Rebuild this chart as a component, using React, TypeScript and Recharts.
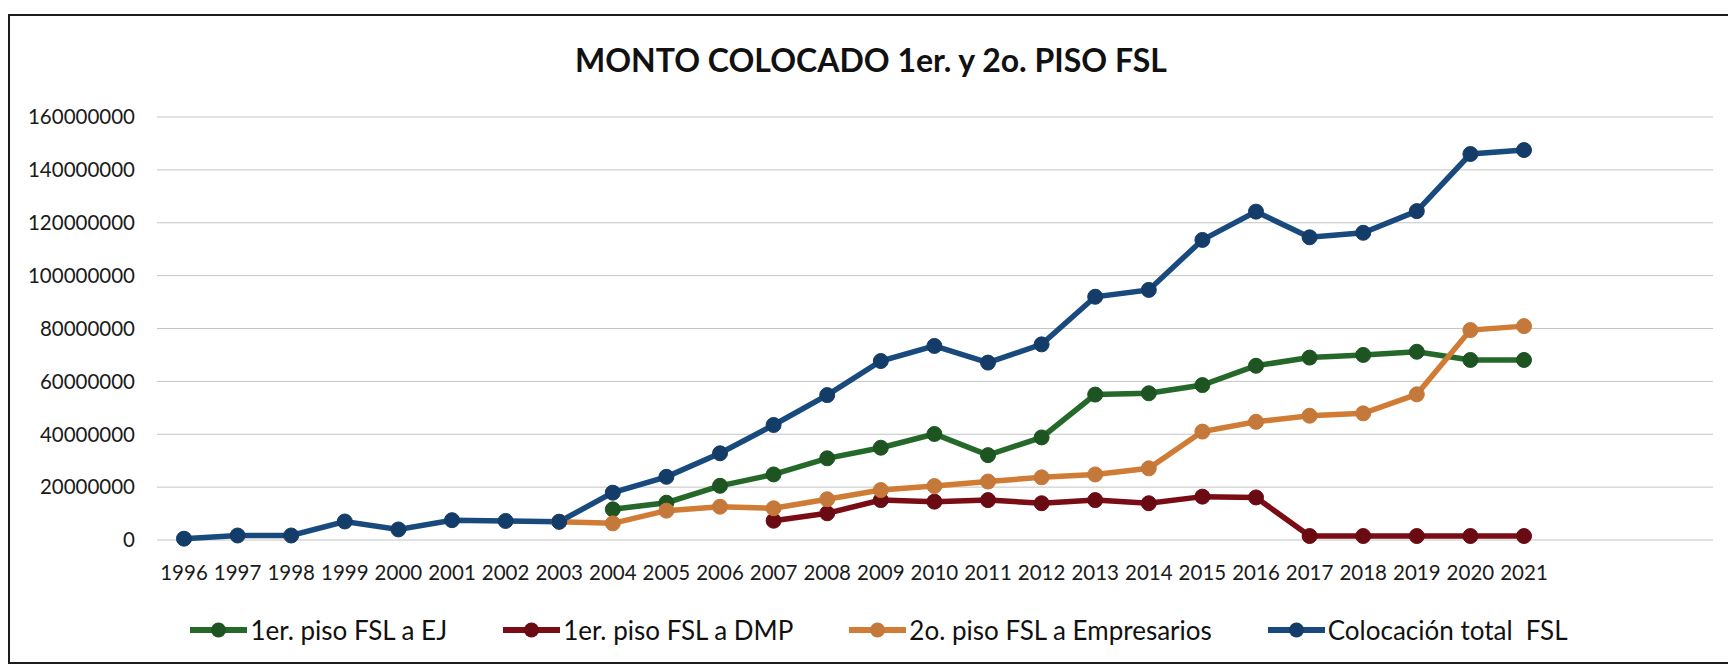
import React from 'react';
import { LineChart, Line, XAxis, YAxis, CartesianGrid } from 'recharts';

const years = ['1996','1997','1998','1999','2000','2001','2002','2003','2004','2005','2006','2007','2008','2009','2010','2011','2012','2013','2014','2015','2016','2017','2018','2019','2020','2021'];

const ejValues = [null,null,null,null,null,null,null,null,11600000,14100000,20500000,24800000,30900000,34900000,40100000,32100000,38800000,55000000,55500000,58600000,65900000,69000000,70000000,71200000,68100000,68100000];

const dmpValues = [null,null,null,null,null,null,null,null,null,null,null,7300000,10100000,15100000,14500000,15100000,13900000,15100000,13900000,16400000,16100000,1500000,1500000,1500000,1500000,1500000];

const empValues = [null,null,null,null,null,null,null,6900000,6300000,11100000,12600000,12000000,15400000,18900000,20400000,22100000,23700000,24800000,27100000,41000000,44700000,47000000,47900000,55100000,79400000,80900000];

const totalValues = [500000,1700000,1700000,7000000,4000000,7500000,7200000,6900000,17900000,23900000,32800000,43500000,54800000,67700000,73400000,67100000,74000000,92000000,94600000,113500000,124200000,114500000,116200000,124400000,146000000,147500000];

const yTicks = [0,20000000,40000000,60000000,80000000,100000000,120000000,140000000,160000000];

const series = [
  { key: 'ej', name: '1er. piso FSL a EJ', color: '#25692a', dot: '#1d5421' },
  { key: 'dmp', name: '1er. piso FSL a DMP', color: '#7a0c16', dot: '#6a0a12' },
  { key: 'emp', name: '2o. piso FSL a Empresarios', color: '#d07c34', dot: '#c4783a' },
  { key: 'total', name: 'Colocación total  FSL', color: '#194a7e', dot: '#143c68' },
];

const title = 'MONTO COLOCADO 1er. y 2o. PISO FSL';

const data = years.map((year, i) => ({
  year,
  ej: ejValues[i],
  dmp: dmpValues[i],
  emp: empValues[i],
  total: totalValues[i],
}));

const FONT = 'Lato, "Open Sans", sans-serif';

export default function App() {
  return (
    <div style={{ position: 'absolute', left: 0, top: 0, width: 1728, height: 666, background: '#fff', overflow: 'hidden', fontFamily: FONT }}>
      <style>{'body{margin:0;overflow:hidden;background:#fff}'}</style>
      <div style={{ position: 'absolute', left: 8, top: 14, width: 1760, height: 650, border: '2.5px solid #1c1c1c', boxSizing: 'border-box' }} />
      <div style={{ position: 'absolute', left: 0, top: 42, width: 1742, textAlign: 'center', fontSize: 32, fontWeight: 700, color: '#111', lineHeight: '36px' }}>
        {title}
      </div>
      <div style={{ position: 'absolute', left: 0, top: 0 }}>
        <LineChart width={1728} height={666} data={data} margin={{ top: 117, right: 15, left: 0, bottom: 66 }}>
          <CartesianGrid vertical={false} stroke="#c4c4c4" strokeWidth={1} />
          <XAxis
            dataKey="year"
            interval={0}
            tickLine={false}
            axisLine={false}
            tickSize={0}
            tickMargin={25}
            height={60}
            padding={{ left: 27, right: 189 }}
            tick={{ fontSize: 20.5, fill: '#1a1a1a', fontFamily: FONT }}
          />
          <YAxis
            width={157}
            domain={[0, 160000000]}
            ticks={yTicks}
            interval={0}
            tickLine={false}
            axisLine={false}
            tickSize={0}
            tickMargin={22}
            tickFormatter={(v: number) => String(v)}
            tick={{ fontSize: 20.5, fill: '#1a1a1a', fontFamily: FONT }}
          />
          {series.map((s) => (
            <Line
              key={s.key}
              type="linear"
              dataKey={s.key}
              name={s.name}
              stroke={s.color}
              strokeWidth={5.5}
              dot={{ r: 7.5, fill: s.dot, stroke: s.dot, strokeWidth: 1 }}
              activeDot={false}
              isAnimationActive={false}
            />
          ))}
        </LineChart>
      </div>
      <div style={{ position: 'absolute', left: 179, top: 614, width: 1400, display: 'flex', justifyContent: 'center', alignItems: 'center', gap: 56, fontSize: 26, color: '#111', whiteSpace: 'pre', lineHeight: '32px' }}>
        {series.map((s) => (
          <div key={s.key} style={{ display: 'flex', alignItems: 'center' }}>
            <svg width={57} height={20} style={{ marginRight: 3 }}>
              <line x1={0} y1={10} x2={57} y2={10} stroke={s.color} strokeWidth={6} />
              <circle cx={28.5} cy={10} r={7.5} fill={s.dot} />
            </svg>
            <span>{s.name}</span>
          </div>
        ))}
      </div>
    </div>
  );
}
